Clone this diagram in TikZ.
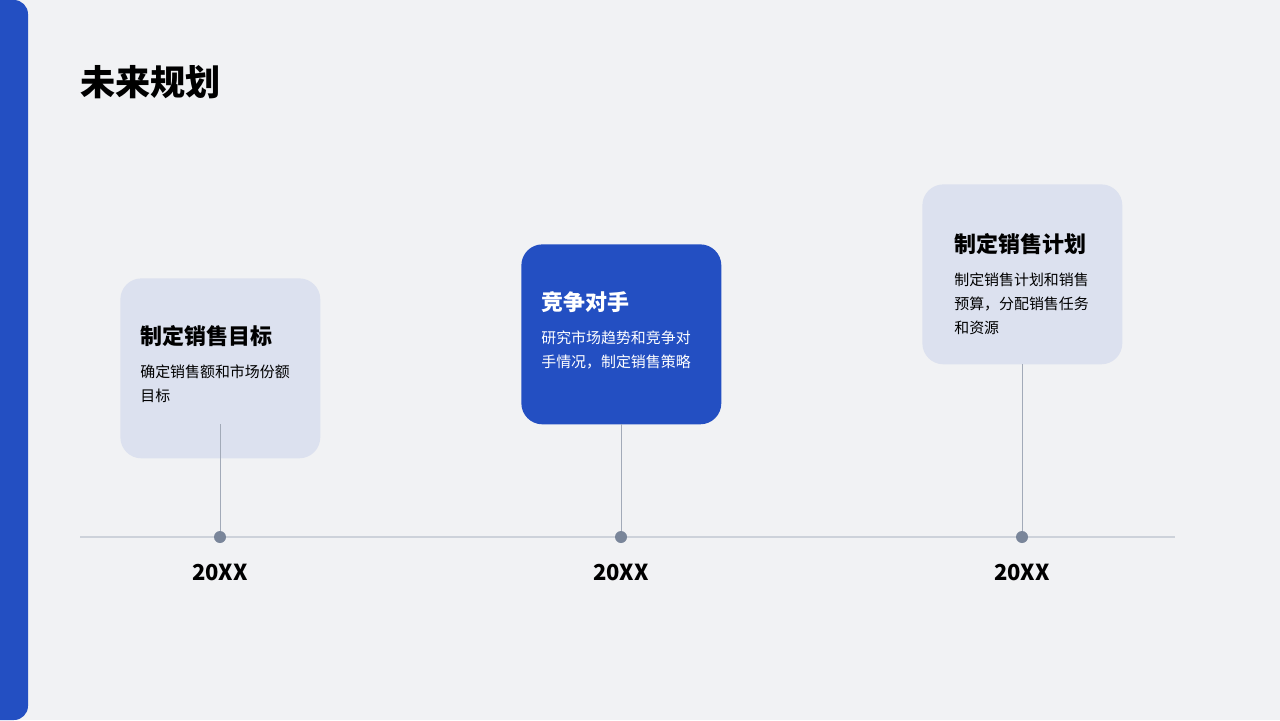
\documentclass[tikz,border=0pt]{standalone}
\usepackage{fontspec}
\setmainfont{Noto Sans CJK SC}
\usetikzlibrary{positioning}
\definecolor{mainblue}{HTML}{234FC2}
\definecolor{pagebg}{HTML}{F1F2F4}
\definecolor{cardbg}{HTML}{DCE1EF}
\definecolor{dotgray}{HTML}{7A869A}
\definecolor{linegray}{HTML}{CDD2DA}
\begin{document}
\begin{tikzpicture}[x=0.02cm, y=-0.02cm,
  card/.style={rounded corners=12pt, minimum width=4cm, minimum height=3.6cm, anchor=north west, inner sep=0pt},
  cardtitle/.style={anchor=west, font=\fontsize{12.5}{15}\selectfont\bfseries, inner sep=0pt},
  cardbody/.style={anchor=north west, align=left, font=\fontsize{8.5}{13.6}\selectfont, inner sep=0pt},
  year/.style={font=\fontsize{12.5}{15}\selectfont\bfseries, inner sep=0pt},
  dot/.style={circle, fill=dotgray, minimum size=12*0.02cm, inner sep=0pt}]

  % background
  \fill[pagebg] (0,0) rectangle (1280,720);
  \useasboundingbox (0,0) rectangle (1280,720);
  \fill[mainblue, rounded corners=8pt] (-20,0) rectangle (28,720);

  % title
  \node[anchor=west, inner sep=0pt, font=\fontsize{20}{24}\selectfont\bfseries] (title) at (80,82) {未来规划};

  % timeline
  \coordinate (L0) at (80,537);
  \coordinate (L1) at (1175,537);
  \draw[linegray, line width=0.8pt] (L0) -- (L1);

  % cards
  \node[card, fill=cardbg] (C1) at (120,278) {};
  \node[card, fill=mainblue] (C2) at (521,244) {};
  \node[card, fill=cardbg] (C3) at (922,184) {};

  \node[cardtitle] (T1) at (140,336) {制定销售目标};
  \node[cardbody, below=10pt of T1.south west, anchor=north west] (B1) {确定销售额和市场份额\\目标};
  \node[cardtitle, text=white] (T2) at (541,302) {竞争对手};
  \node[cardbody, text=white, below=10pt of T2.south west, anchor=north west] (B2) {研究市场趋势和竞争对\\手情况，制定销售策略};
  \node[cardtitle] (T3) at (954,244) {制定销售计划};
  \node[cardbody, below=10pt of T3.south west, anchor=north west] (B3) {制定销售计划和销售\\预算，分配销售任务\\和资源};

  % dots and years
  \node[dot] (D1) at (220,537) {};
  \node[dot] (D2) at (621,537) {};
  \node[dot] (D3) at (1022,537) {};
  \coordinate (S1) at (220,424);
  \coordinate (S2) at (621,424);
  \coordinate (S3) at (1022,364);
  \draw[dotgray!70, line width=0.3pt] (S1) -- (D1);
  \draw[dotgray!70, line width=0.3pt] (S2) -- (D2);
  \draw[dotgray!70, line width=0.3pt] (S3) -- (D3);

  \node[year] (Y1) at (220,572) {20XX};
  \node[year] (Y2) at (621,572) {20XX};
  \node[year] (Y3) at (1022,572) {20XX};

\end{tikzpicture}
\end{document}
